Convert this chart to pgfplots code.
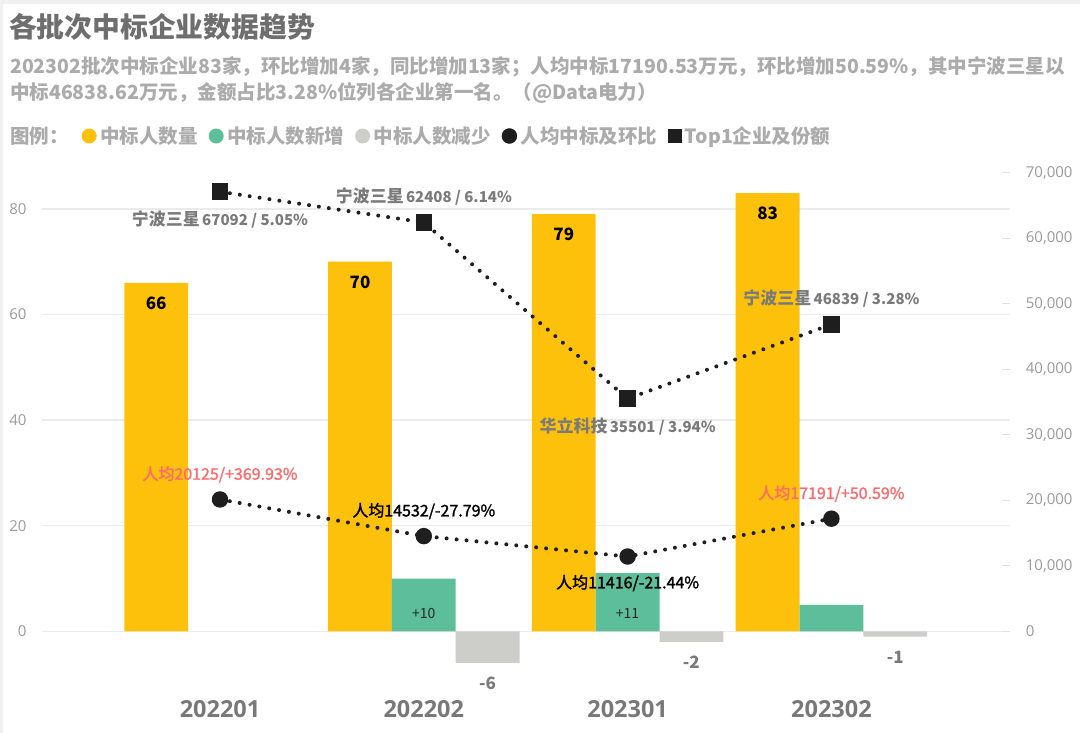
\documentclass[border=0pt]{standalone}
\usepackage{fontspec}
\setmainfont{Noto Sans CJK SC}
\newfontfamily\osans{Open Sans}
\newfontfamily\cnsemi[FakeBold=1.6]{Noto Sans CJK SC}
\usepackage{pgfplots}
\pgfplotsset{compat=1.18}
\usepackage{pgfplotstable}

\definecolor{gold}{HTML}{FEC10B}
\definecolor{cgreen}{HTML}{5DBE9B}
\definecolor{cgrey}{HTML}{CDCDC9}
\definecolor{titlegrey}{HTML}{6E6E6E}
\definecolor{subgrey}{HTML}{ABABAB}
\definecolor{tickgrey}{HTML}{9A9A9A}
\definecolor{xlabgrey}{HTML}{787878}
\definecolor{gridgrey}{HTML}{EBEBEB}
\definecolor{tickmark}{HTML}{E2E2E2}
\definecolor{lblgrey}{HTML}{7A7A7A}
\definecolor{cred}{HTML}{FF6B6B}
\definecolor{markblack}{HTML}{1E1E1E}
\definecolor{bordergrey}{HTML}{F0F0F0}

\newcommand\fs[1]{\fontsize{#1bp}{#1bp}\selectfont}
\newcommand\toplab[1]{\expandafter\toplabsplit#1\relax}
\def\toplabsplit#1|#2\relax{{\fs{17}#1} {\fs{15}#2}}

\pgfplotstableread{
x n
0 66
1 70
2 79
3 83
}\tcount
\pgfplotstableread{
x n
1 10
2 11
3 5
}\tgrowth
\pgfplotstableread{
x n
1 -6
2 -2
3 -1
}\tdrop
\pgfplotstableread{
x avg top
0 20125 67092
1 14532 62408
2 11416 35501
3 17191 46839
}\tline

\begin{document}
\begin{tikzpicture}
\useasboundingbox (0,0) rectangle (1080bp,-733bp);
\fill[bordergrey] (0,0) rectangle (1080bp,-4bp);
\fill[bordergrey] (0,0) rectangle (2.5bp,-733bp);

\node[anchor=west, inner sep=0pt, font=\bfseries\fs{27.8}, text=titlegrey] at (9bp,-26.7bp) {各批次中标企业数据趋势};
\node[anchor=west, inner sep=0pt, font=\bfseries\fs{19.5}, text=subgrey] at (10bp,-66.7bp) {202302批次中标企业83家，环比增加4家，同比增加13家；人均中标17190.53万元，环比增加50.59\%，其中宁波三星以};
\node[anchor=west, inner sep=0pt, font=\bfseries\fs{19.5}, text=subgrey] at (10bp,-92.5bp) {中标46838.62万元，金额占比3.28\%位列各企业第一名。（@Data电力）};
\node[anchor=west, inner sep=0pt, font=\bfseries\fs{19.5}, text=subgrey] at (10bp,-136bp) {图例：};

\begin{axis}[
  at={(42.3bp,-694.66bp)}, anchor=south west,
  scale only axis, width=967.7bp, height=521.96bp,
  xmin=-0.8719, xmax=3.8763, ymin=-12, ymax=86.85,
  clip=false,
  axis line style={draw=none},
  xtick={0,1,2,3}, xticklabels={202201,202202,202301,202302},
  xticklabel style={font=\osans\bfseries\fs{23.5}, text=xlabgrey, anchor=north, inner sep=0pt, yshift=-5.7bp},
  ytick={0,20,40,60,80},
  yticklabel style={font=\osans\fs{15}, text=tickgrey, anchor=east, inner sep=0pt, xshift=-15.6bp},
  major tick length=0pt,
  tick style={draw=none},
  ymajorgrids, grid style={gridgrey, line width=1.3bp},
  /pgf/number format/assume math mode=true,
  legend style={at={(axis description cs:0.04051,1.07031)}, anchor=west, draw=none, fill=none,
    inner xsep=0pt, inner ysep=0pt, legend columns=-1,
    font=\bfseries\fs{19.5}, text=subgrey,
    nodes={inner sep=0pt, text=subgrey},
    /tikz/every odd column/.style={column sep=3.5bp},
    /tikz/every even column/.style={column sep=11bp}},
  legend cell align=left,
]
\addplot[ybar, bar width=63.8bp, bar shift=-63.8bp, fill=gold, draw=none,
  nodes near coords,
  nodes near coords style={font=\bfseries\fs{17}, text=black, anchor=center, xshift=-63.8bp, yshift=-20.5bp},
  legend image code/.code={\fill[gold] (7.5bp,0bp) circle (7.5bp);}]
  table[x=x, y=n]{\tcount};
\addlegendentry{中标人数量}
\addplot[ybar, bar width=63.8bp, bar shift=0bp, fill=cgreen, draw=none,
  legend image code/.code={\fill[cgreen] (7.5bp,0bp) circle (7.5bp);}]
  table[x=x, y=n]{\tgrowth};
\addlegendentry{中标人数新增}
\addplot[ybar, bar width=63.8bp, bar shift=63.8bp, fill=cgrey, draw=none,
  nodes near coords,
  nodes near coords style={font=\bfseries\fs{17}, text=lblgrey, anchor=center, xshift=63.8bp, yshift=-20.3bp},
  legend image code/.code={\fill[cgrey] (7.5bp,0bp) circle (7.5bp);}]
  table[x=x, y=n]{\tdrop};
\addlegendentry{中标人数减少}
\addlegendimage{legend image code/.code={\fill[markblack] (7.5bp,0bp) circle (7.5bp);}}
\addlegendentry{人均中标及环比}
\addlegendimage{legend image code/.code={\fill[markblack] (1bp,-6.5bp) rectangle (14bp,6.5bp);}}
\addlegendentry{Top1企业及份额}
% labels of the growth bars, set near their base
\addplot[forget plot, draw=none, mark=none, point meta=explicit symbolic, nodes near coords,
  nodes near coords style={font=\fs{14}, text=black!85, anchor=center}]
  coordinates {(1,3.28)[+10] (2,3.28)[+11]};
\end{axis}

\begin{axis}[
  at={(42.3bp,-694.66bp)}, anchor=south west,
  scale only axis, width=967.7bp, height=521.96bp,
  xmin=-0.8719, xmax=3.8763, ymin=-9671.8, ymax=70000,
  clip=false,
  hide x axis,
  axis y line*=right,
  y axis line style={draw=none},
  ytick={0,10000,20000,30000,40000,50000,60000,70000},
  scaled y ticks=false,
  yticklabel style={font=\osans\fs{15}, text=tickgrey, anchor=west, inner sep=0pt, xshift=15.7bp},
  ytick style={draw=tickmark, line width=1.3bp},
  tick align=inside, major tick length=8bp,
  /pgf/number format/.cd, 1000 sep={,}, assume math mode=true,
]
\addplot[color=markblack, line width=4bp, dash pattern=on 0bp off 10bp, line cap=round,
  mark=*, mark size=6.2bp, mark options={solid, draw=none, fill=markblack}]
  table[x=x, y=avg]{\tline};
\addplot[color=markblack, line width=4bp, dash pattern=on 0bp off 10bp, line cap=round,
  mark=square*, mark size=6.3bp, mark options={solid, draw=none, fill=markblack}]
  table[x=x, y=top]{\tline};
% labels of the per-capita line
\addplot[draw=none, mark=none, point meta=explicit symbolic, nodes near coords,
  nodes near coords style={font=\cnsemi\fs{16}, text=cred, anchor=center, yshift=25bp}]
  coordinates {(0,20125)[人均20125/+369.93\%] (3,17191)[人均17191/+50.59\%]};
\addplot[draw=none, mark=none, point meta=explicit symbolic, nodes near coords,
  nodes near coords style={font=\cnsemi\fs{16}, text=black, anchor=center, yshift=25bp}]
  coordinates {(1,14532)[人均14532/-27.79\%]};
\addplot[draw=none, mark=none, point meta=explicit symbolic, nodes near coords,
  nodes near coords style={font=\cnsemi\fs{16}, text=black, anchor=center, yshift=-26.5bp}]
  coordinates {(2,11416)[人均11416/-21.44\%]};
% labels of the top-1 line
\addplot[draw=none, mark=none, point meta=explicit symbolic,
  nodes near coords={\toplab{\pgfplotspointmeta}},
  nodes near coords style={font=\bfseries, text=lblgrey, anchor=center, yshift=-27.5bp}]
  coordinates {(0,67092)[宁波三星|67092 / 5.05\%] (2,35501)[华立科技|35501 / 3.94\%]};
\addplot[draw=none, mark=none, point meta=explicit symbolic,
  nodes near coords={\toplab{\pgfplotspointmeta}},
  nodes near coords style={font=\bfseries, text=lblgrey, anchor=center, yshift=26bp}]
  coordinates {(1,62408)[宁波三星|62408 / 6.14\%] (3,46839)[宁波三星|46839 / 3.28\%]};
\end{axis}
\end{tikzpicture}
\end{document}
